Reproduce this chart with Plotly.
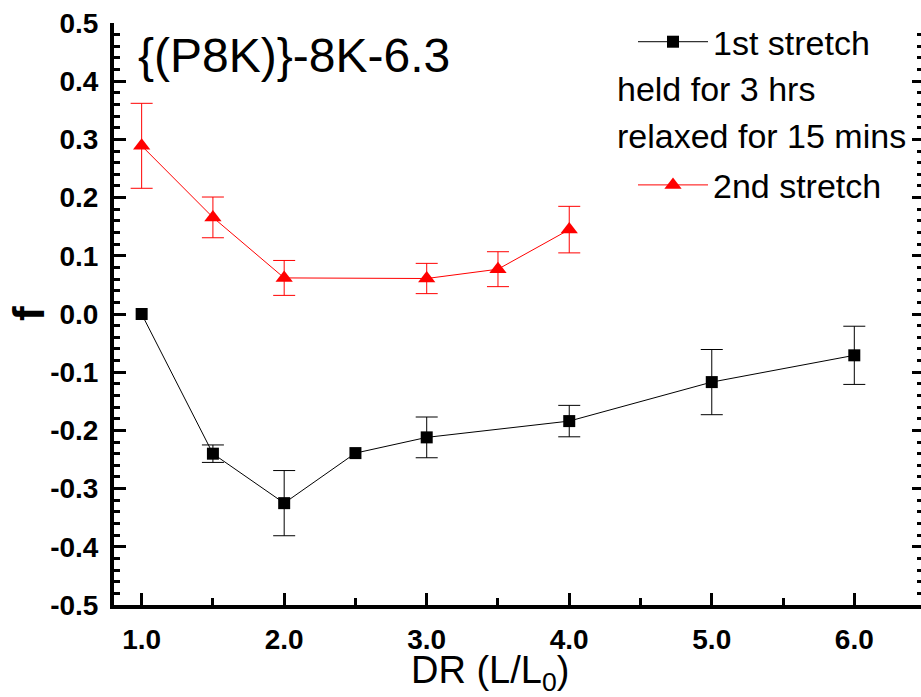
import plotly.graph_objects as go

# ---- data ----
dr_first = [1.0, 1.5, 2.0, 2.5, 3.0, 4.0, 5.0, 6.0]
f_first = [0.0, -0.240, -0.325, -0.239, -0.212, -0.184, -0.117, -0.071]
err_first = [None, 0.015, 0.056, None, 0.035, 0.027, 0.056, 0.050]

dr_second = [1.0, 1.5, 2.0, 3.0, 3.5, 4.0]
f_second = [0.289, 0.166, 0.062, 0.061, 0.077, 0.145]
err_second = [0.073, 0.035, 0.030, 0.026, 0.030, 0.040]

x_ticks = [1.0, 2.0, 3.0, 4.0, 5.0, 6.0]
y_ticks = [-0.5, -0.4, -0.3, -0.2, -0.1, 0.0, 0.1, 0.2, 0.3, 0.4, 0.5]

name_first = "1st stretch"
name_second = "2nd stretch"
note_lines = ["held for 3 hrs", "relaxed for 15 mins"]
chart_label = "{(P8K)}-8K-6.3"
x_title = "DR (L/L<sub>0</sub>)"
y_title = "f"

FONT = "Liberation Sans, Arial, sans-serif"

fig = go.Figure()

# error bars only for points that have an error value (drawn beneath the markers)
ex = [x for x, e in zip(dr_first, err_first) if e is not None]
ey = [y for y, e in zip(f_first, err_first) if e is not None]
ee = [e for e in err_first if e is not None]
fig.add_trace(go.Scatter(
    x=ex, y=ey, mode="markers", marker=dict(size=1, opacity=0, color="black"),
    error_y=dict(type="data", array=ee, color="black", thickness=1, width=11),
    showlegend=False, hoverinfo="skip",
))
fig.add_trace(go.Scatter(
    x=dr_first, y=f_first, name=name_first, mode="lines+markers",
    line=dict(color="black", width=1),
    marker=dict(symbol="square", size=12, color="black"),
    legendgroup="a",
))
fig.add_trace(go.Scatter(
    x=dr_second, y=f_second, name=name_second, mode="lines+markers",
    line=dict(color="red", width=1),
    marker=dict(symbol="triangle-up", size=15, color="red"),
    error_y=dict(type="data", array=err_second, color="red", thickness=1, width=11),
    legendgroup="b",
))
# empty trace so the right-hand axis is drawn
fig.add_trace(go.Scatter(x=[None], y=[None], yaxis="y2", showlegend=False, hoverinfo="skip"))

tick_font = dict(family=FONT, size=28, color="black", weight="bold")

fig.update_layout(
    width=921, height=697,
    margin=dict(l=114, r=0, t=23, b=92),
    paper_bgcolor="white", plot_bgcolor="white",
    font=dict(family=FONT, color="black"),
    showlegend=True,
    legend=dict(
        x=(633 - 114) / 807, y=1.017, xanchor="left", yanchor="top",
        font=dict(family=FONT, size=34, color="black"),
        bgcolor="rgba(0,0,0,0)", borderwidth=0,
        traceorder="grouped", tracegroupgap=96,
        itemwidth=70,
    ),
    xaxis=dict(
        range=[0.806, 6.468], showgrid=False, zeroline=False,
        showline=True, linewidth=4, linecolor="black", mirror=False,
        tickvals=x_ticks, ticktext=[f"{v:.1f}" for v in x_ticks],
        ticks="inside", ticklen=12, tickwidth=3, tickcolor="black",
        minor=dict(dtick=0.5, tick0=0.5, ticks="inside", ticklen=7, tickwidth=3, tickcolor="black"),
        tickfont=tick_font, ticklabelstandoff=6,
    ),
    yaxis=dict(
        range=[-0.5, 0.5], showgrid=False, zeroline=False,
        showline=True, linewidth=4, linecolor="black", mirror=False,
        tickvals=y_ticks, ticktext=[f"{v:.1f}" for v in y_ticks],
        ticks="inside", ticklen=12, tickwidth=3, tickcolor="black",
        minor=dict(dtick=0.02, tick0=0, ticks="inside", ticklen=6, tickwidth=3, tickcolor="black"),
        tickfont=tick_font, ticklabelstandoff=6,
    ),
    yaxis2=dict(
        overlaying="y", side="right", range=[-0.5, 0.5],
        showgrid=False, zeroline=False, showline=False, showticklabels=False,
        tickvals=y_ticks,
        ticks="inside", ticklen=9, tickwidth=3, tickcolor="black",
        minor=dict(dtick=0.02, tick0=0, ticks="inside", ticklen=4, tickwidth=3, tickcolor="black"),
    ),
)

# chart label, legend note lines, axis titles
fig.add_annotation(text=chart_label, xref="paper", yref="paper", x=(136 - 114) / 807, y=0.945,
                   xanchor="left", yanchor="middle", showarrow=False,
                   font=dict(family=FONT, size=48, color="black"))
for i, line in enumerate(note_lines):
    fig.add_annotation(text=line, xref="paper", yref="paper",
                       x=(615 - 114) / 807, y=1 - (89 + 47 * i - 23) / 582,
                       xanchor="left", yanchor="middle", showarrow=False,
                       font=dict(family=FONT, size=34, color="black"))
fig.add_annotation(text=x_title, xref="paper", yref="paper",
                   x=(490 - 114) / 807, y=-0.117, xanchor="center", yanchor="middle",
                   showarrow=False, font=dict(family=FONT, size=38, color="black"))
fig.add_annotation(text=y_title, xref="paper", yref="paper",
                   x=(28 - 114) / 807, y=0.5, xanchor="center", yanchor="middle", textangle=-90,
                   showarrow=False, font=dict(family=FONT, size=44, color="black", weight="bold"))

fig.write_html("out.html")
